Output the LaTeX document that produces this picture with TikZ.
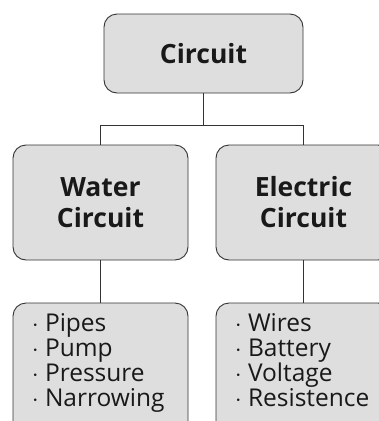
\documentclass[tikz,border=0pt]{standalone}
\usepackage{fontspec}
\setmainfont{Open Sans}
\begin{document}
\begin{tikzpicture}[x=1pt,y=1pt,
  box/.style={draw=black!80,fill=black!13,line width=0.9pt,rounded corners=13pt,inner sep=0pt},
  title/.style={font=\bfseries\fontsize{26.5}{31}\selectfont,align=center,text=black!90},
  items/.style={font=\fontsize{24.5}{25}\selectfont,align=left,anchor=north west,inner sep=0pt,text=black!90},
  conn/.style={draw=black!80,line width=0.9pt}]
\useasboundingbox (0,0) rectangle (379,-421);
\clip (0,0) rectangle (379,-421);
\node[box,minimum width=199pt,minimum height=79pt] (top) at (203.5,-53.5) {};
\node[title] (toptxt) at (top.center) {Circuit};
\node[box,minimum width=175pt,minimum height=115pt] (water) at (100.5,-202.5) {};
\node[title] (watertxt) at (water.center) {Water\\Circuit};
\node[box,minimum width=175pt,minimum height=115pt] (elec) at (303.5,-202.5) {};
\node[title] (electxt) at (elec.center) {Electric\\Circuit};
\node[box,minimum width=175pt,minimum height=140pt] (wlist) at (100.5,-373) {};
\node[box,minimum width=175pt,minimum height=140pt] (elist) at (303.5,-373) {};
\node[items] (wtxt) at ([xshift=19pt,yshift=-11pt]wlist.north west) {$\cdot$ Pipes\\$\cdot$ Pump\\$\cdot$ Pressure\\$\cdot$ Narrowing};
\node[items] (etxt) at ([xshift=19pt,yshift=-11pt]elist.north west) {$\cdot$ Wires\\$\cdot$ Battery\\$\cdot$ Voltage\\$\cdot$ Resistence};
\coordinate (j) at ([yshift=-32pt]top.south);
\draw[conn] (top.south) -- (j);
\draw[conn] (j) -| (water.north);
\draw[conn] (j) -| (elec.north);
\draw[conn] (water.south) -- (wlist.north);
\draw[conn] (elec.south) -- (elist.north);
\end{tikzpicture}
\end{document}
